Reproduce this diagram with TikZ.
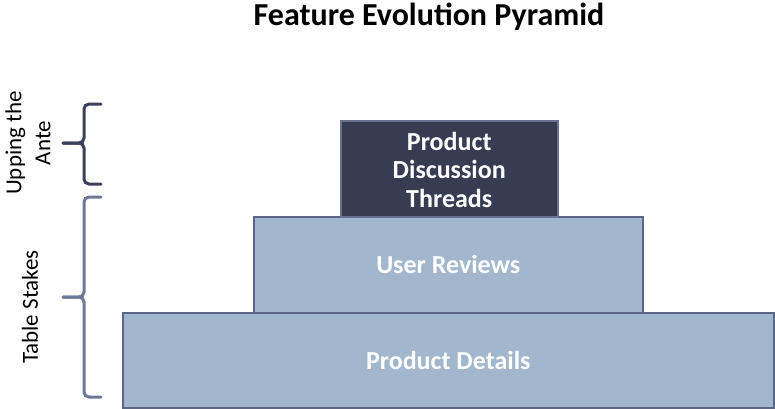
\documentclass[tikz,border=0pt]{standalone}
\usepackage{fontspec}
\setmainfont{Carlito}
\definecolor{lightfill}{HTML}{A2B7CE}
\definecolor{lightedge}{HTML}{5B6684}
\definecolor{darkfill}{HTML}{373C53}
\definecolor{darkedge}{HTML}{6A7090}
\definecolor{bracedark}{HTML}{3B3F58}
\definecolor{bracelight}{HTML}{6E7899}
\tikzset{
  tier/.style={draw=lightedge, fill=lightfill, line width=1.5pt, anchor=north west, inner sep=0pt,
    text=white, font=\fontsize{26}{28.5}\selectfont\bfseries, align=center},
  toptier/.style={tier, draw=darkedge, fill=darkfill},
  bracket/.style={line width=3pt, rounded corners=5pt, line cap=round},
  sidelabel/.style={rotate=90, font=\fontsize{23}{29}\selectfont, align=center, text=black}
}
\begin{document}
\begin{tikzpicture}[x=1pt,y=-1pt]
\useasboundingbox (0,0) rectangle (775,408);
\node[font=\fontsize{32}{36}\selectfont\bfseries] (title) at (429,17) {Feature Evolution Pyramid};
\node[tier, minimum width=651pt, minimum height=95pt] (base) at (122,312) {};
\node[tier, minimum width=389pt, minimum height=96pt] (mid) at (253,216) {};
\node[toptier, minimum width=217pt, minimum height=96pt] (top) at (340,120) {};
\node[text=white, font=\fontsize{26}{28.5}\selectfont\bfseries] (basetxt) at (base.center) {Product Details};
\node[text=white, font=\fontsize{26}{28.5}\selectfont\bfseries] (midtxt) at (mid.center) {User Reviews};
\node[text=white, font=\fontsize{26}{28.5}\selectfont\bfseries, align=center] (toptxt) at ([yshift=-1pt]top.center) {Product\\Discussion\\Threads};
% braces
\coordinate (b1a) at (101,104);
\coordinate (b1m) at (63,143);
\coordinate (b1b) at (101,184);
\draw[bracket, draw=bracedark] (b1a) -- (84,104) -- (84,143) -- (b1m);
\draw[bracket, draw=bracedark] (b1m) -- (84,143) -- (84,184) -- (b1b);
\coordinate (b2a) at (101,197);
\coordinate (b2m) at (63,297);
\coordinate (b2b) at (101,397);
\draw[bracket, draw=bracelight] (b2a) -- (84,197) -- (84,297) -- (b2m);
\draw[bracket, draw=bracelight] (b2m) -- (84,297) -- (84,397) -- (b2b);
\node[sidelabel] (upping) at (28,143) {Upping the\\Ante};
\node[sidelabel] (table) at (30,307) {Table Stakes};
\end{tikzpicture}
\end{document}
